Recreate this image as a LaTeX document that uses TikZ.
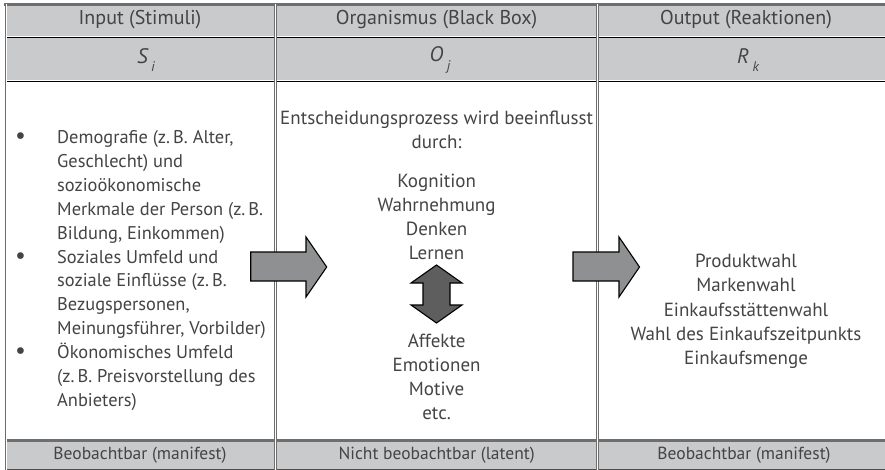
\documentclass[tikz,border=0pt]{standalone}
\usepackage{fontspec}
\setmainfont{PT Sans}
\definecolor{hdrfill}{HTML}{C9CACC}
\definecolor{txtc}{HTML}{444444}
\definecolor{bordc}{HTML}{6E6E6E}
\definecolor{arrowfill}{HTML}{8F9092}
\definecolor{darrowfill}{HTML}{5E5E5E}
\begin{document}
\begin{tikzpicture}[x=1pt,y=-1pt,
  txt/.style={text=txtc, inner sep=0pt, font=\fontsize{19}{24.2}\selectfont, align=center},
  listtxt/.style={text=txtc, inner sep=0pt, font=\fontsize{18.4}{23.9}\selectfont, align=left},
  hdr/.style={text=txtc, inner sep=0pt, font=\fontsize{20}{22}\selectfont},
  sym/.style={text=txtc, inner sep=0pt, font=\fontsize{21}{22}\selectfont\itshape},
  foot/.style={text=txtc, inner sep=0pt, font=\fontsize{17.5}{20}\selectfont},
  dblk/.style={draw=black, double=white, double distance=1pt, line width=0.9pt},
  dgry/.style={draw=bordc, double=white, double distance=0.9pt, line width=0.9pt},
  blockarrow/.style={fill=arrowfill, draw=black, line width=1.1pt, line join=miter},
  dblarrow/.style={fill=darrowfill, draw=black, line width=1.1pt, line join=miter}]
\useasboundingbox (0,0) rectangle (885,470);
\clip (0,0) rectangle (885,470);
\fill[white] (0,0) rectangle (885,470);
% header and footer fills
\fill[hdrfill] (5,4) rectangle (895,81);
\fill[hdrfill] (5,440) rectangle (895,470);
% horizontal rules
\draw[bordc, line width=2.4pt] (4,4.6) -- (895,4.6);
\draw[dblk] (5,37) -- (895,37);
\draw[dblk] (5,81) -- (895,81);
\draw[bordc, line width=3pt] (5,440.5) -- (895,440.5);
\draw[bordc!70!black, line width=2pt] (5,469.5) -- (895,469.5);
% vertical rules
\draw[dgry] (6,4) -- (6,470);
\draw[dgry] (275.5,4) -- (275.5,470);
\draw[dgry] (597.7,4) -- (597.7,470);
% header texts
\node[hdr] (h1) at (140,20) {Input (Stimuli)};
\node[hdr] (h2) at (436.6,20) {Organismus (Black Box)};
\node[hdr] (h3) at (746,20) {Output (Reaktionen)};
% symbols
\node[sym] (s1) at (146,60) {S\,\raisebox{-0.4em}{\fontsize{14}{14}\selectfont i}};
\node[sym] (s2) at (440,60) {O\,\raisebox{-0.4em}{\fontsize{14}{14}\selectfont j}};
\node[sym] (s3) at (748,60) {R\,\raisebox{-0.4em}{\fontsize{14}{14}\selectfont k}};
% left column list
\node[listtxt, anchor=west] (inputs) at (15,270.5) {%
\makebox[42pt][l]{\scalebox{1.3}{\textbullet}}Demografie (z.\,B. Alter,\\
\hspace*{42pt}Geschlecht) und\\
\hspace*{42pt}sozioökonomische\\
\hspace*{42pt}Merkmale der Person (z.\,B.\\
\hspace*{42pt}Bildung, Einkommen)\\
\makebox[42pt][l]{\scalebox{1.3}{\textbullet}}Soziales Umfeld und\\
\hspace*{42pt}soziale Einflüsse (z.\,B.\\
\hspace*{42pt}Bezugspersonen,\\
\hspace*{42pt}Meinungsführer, Vorbilder)\\
\makebox[42pt][l]{\scalebox{1.3}{\textbullet}}Ökonomisches Umfeld\\
\hspace*{42pt}(z.\,B. Preisvorstellung des\\
\hspace*{42pt}Anbieters)};
% middle column
\node[txt] (intro) at (436.6,130) {Entscheidungsprozess wird beeinflusst\\durch:};
\node[txt] (kog) at (436.6,217) {Kognition\\Wahrnehmung\\Denken\\Lernen};
\node[txt] (aff) at (436.6,377) {Affekte\\Emotionen\\Motive\\etc.};
% right column
\node[txt] (reak) at (746,311.3) {Produktwahl\\Markenwahl\\Einkaufsstättenwahl\\Wahl des Einkaufszeitpunkts\\Einkaufsmenge};
% footer texts
\node[foot] (f1) at (140,455) {Beobachtbar (manifest)};
\node[foot] (f2) at (436.6,455) {Nicht beobachtbar (latent)};
\node[foot] (f3) at (744,455) {Beobachtbar (manifest)};
% block arrows
\draw[blockarrow] (250.7,252) -- (306,252) -- (306,237) -- (326.7,267) -- (306,297) -- (306,281) -- (250.7,281) -- cycle;
\draw[blockarrow] (573,252) -- (619,252) -- (619,237) -- (639.5,267) -- (619,297) -- (619,281) -- (573,281) -- cycle;
% double arrow
\draw[dblarrow] (436.5,265) -- (462,283) -- (450,283) -- (450,305) -- (462,305) -- (436.5,323) -- (411,305) -- (423,305) -- (423,283) -- (411,283) -- cycle;
\end{tikzpicture}
\end{document}
